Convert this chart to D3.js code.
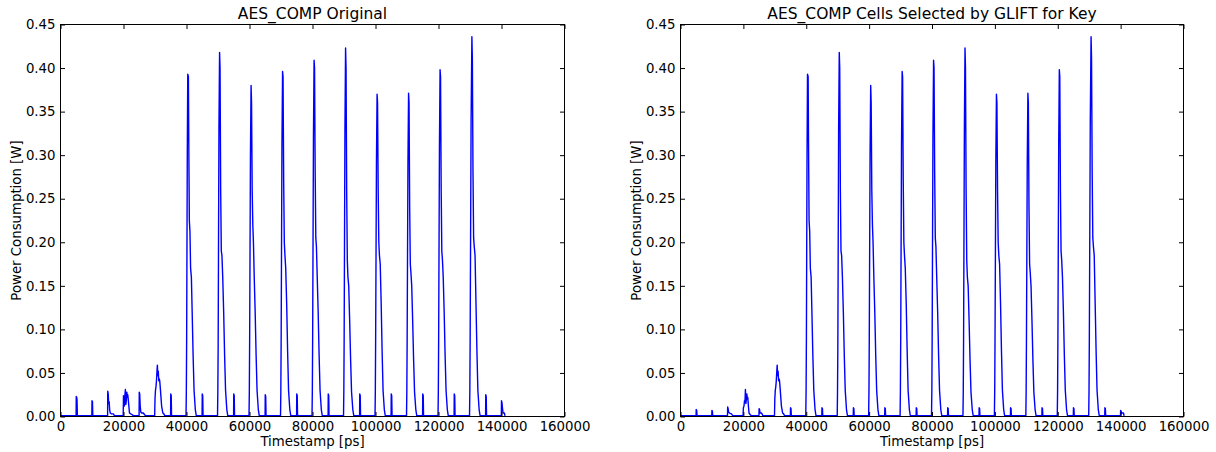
<!DOCTYPE html>
<html><head><meta charset="utf-8">
<script src="https://cdn.jsdelivr.net/npm/d3@7"></script>
<style>
body{margin:0;background:#fff;}
text{font-family:"DejaVu Sans",sans-serif;fill:#000;}
</style>
</head><body>
<svg id="chart" width="1216" height="452"></svg>
<script>
// ---------------- data ----------------
const panelTitles = ["AES_COMP Original", "AES_COMP Cells Selected by GLIFT for Key"];
const xLabel = "Timestamp [ps]";
const yLabel = "Power Consumption [W]";
const xTicks = [0, 20000, 40000, 60000, 80000, 100000, 120000, 140000, 160000];
const yTicks = [0.00, 0.05, 0.10, 0.15, 0.20, 0.25, 0.30, 0.35, 0.40, 0.45];

// Big round spikes (identical in both panels): [timestamp ps, power W]
const roundSpikes = [
  [[39850,0.001],[39950,0.03],[40050,0.09],[40250,0.30],[40400,0.393],[40600,0.390],[40750,0.30],[40900,0.225],[41100,0.212],[41300,0.170],[41550,0.160],[41800,0.120],[42100,0.070],[42400,0.030],[42800,0.008],[43100,0.001]],
  [[49850,0.001],[49950,0.03],[50050,0.08],[50300,0.33],[50500,0.418],[50650,0.400],[50850,0.26],[51050,0.190],[51250,0.185],[51500,0.160],[51800,0.120],[52100,0.070],[52400,0.030],[52800,0.008],[53100,0.001]],
  [[59850,0.001],[59950,0.03],[60050,0.09],[60300,0.30],[60500,0.380],[60650,0.360],[60850,0.26],[61050,0.220],[61250,0.200],[61500,0.160],[61800,0.120],[62100,0.070],[62400,0.030],[62800,0.008],[63100,0.001]],
  [[69850,0.001],[69950,0.03],[70050,0.09],[70300,0.31],[70500,0.396],[70650,0.390],[70850,0.27],[71050,0.200],[71250,0.185],[71500,0.170],[71800,0.130],[72100,0.075],[72400,0.030],[72800,0.008],[73100,0.001]],
  [[79850,0.001],[79950,0.03],[80050,0.09],[80300,0.32],[80500,0.409],[80650,0.400],[80850,0.28],[81050,0.205],[81250,0.195],[81500,0.160],[81800,0.120],[82100,0.070],[82400,0.030],[82800,0.008],[83100,0.001]],
  [[89850,0.001],[89950,0.03],[90050,0.09],[90300,0.33],[90500,0.423],[90650,0.400],[90850,0.26],[91050,0.180],[91250,0.160],[91500,0.150],[91800,0.110],[92100,0.065],[92400,0.028],[92800,0.008],[93100,0.001]],
  [[99850,0.001],[99950,0.03],[100050,0.09],[100300,0.29],[100500,0.370],[100650,0.360],[100850,0.26],[101050,0.200],[101250,0.185],[101500,0.175],[101800,0.130],[102100,0.075],[102400,0.030],[102800,0.008],[103100,0.001]],
  [[109850,0.001],[109950,0.03],[110050,0.09],[110300,0.29],[110500,0.371],[110650,0.360],[110850,0.24],[111050,0.175],[111250,0.165],[111500,0.150],[111800,0.110],[112100,0.065],[112400,0.028],[112800,0.008],[113100,0.001]],
  [[119850,0.001],[119950,0.03],[120050,0.09],[120300,0.31],[120500,0.398],[120650,0.390],[120850,0.26],[121050,0.190],[121250,0.180],[121500,0.160],[121800,0.120],[122100,0.070],[122400,0.030],[122800,0.008],[123100,0.001]],
  [[129850,0.001],[129950,0.03],[130050,0.09],[130350,0.34],[130600,0.436],[130750,0.410],[130950,0.28],[131150,0.205],[131350,0.195],[131600,0.185],[131900,0.130],[132200,0.075],[132500,0.030],[132900,0.008],[133200,0.001]]
];

// Minor activity, original design
const originalMinor = [
  [0,0.001],
  [4950,0.001],[5000,0.023],[5150,0.022],[5250,0.019],[5350,0.001],
  [9950,0.001],[10000,0.018],[10150,0.017],[10250,0.001],
  [14950,0.001],[15000,0.029],[15150,0.026],[15300,0.015],[15450,0.017],[15600,0.008],[15800,0.004],[16200,0.003],[16800,0.003],[17100,0.001],
  [19900,0.001],[20000,0.024],[20150,0.022],[20300,0.012],[20450,0.025],[20600,0.031],[20750,0.014],[20900,0.019],[21050,0.028],[21200,0.022],[21350,0.025],[21500,0.020],[21700,0.012],[21900,0.004],[22300,0.003],[22800,0.002],[23100,0.001],
  [24950,0.001],[25000,0.028],[25150,0.026],[25300,0.012],[25500,0.005],[25800,0.004],[26300,0.004],[26700,0.002],[27000,0.001],
  [29900,0.001],[30000,0.020],[30150,0.030],[30300,0.034],[30450,0.040],[30600,0.050],[30750,0.059],[30900,0.047],[31050,0.052],[31200,0.041],[31350,0.043],[31500,0.041],[31700,0.032],[31900,0.022],[32100,0.012],[32300,0.008],[32500,0.004],[32800,0.003],[33100,0.001],
  [34950,0.001],[35000,0.026],[35150,0.024],[35250,0.001],
  [44950,0.001],[45000,0.026],[45150,0.024],[45250,0.001],
  [54950,0.001],[55000,0.026],[55150,0.024],[55250,0.001],
  [64950,0.001],[65000,0.025],[65150,0.023],[65250,0.001],
  [74950,0.001],[75000,0.026],[75150,0.024],[75250,0.001],
  [84950,0.001],[85000,0.026],[85150,0.024],[85250,0.001],
  [94950,0.001],[95000,0.026],[95150,0.024],[95250,0.001],
  [104950,0.001],[105000,0.026],[105150,0.024],[105250,0.001],
  [114950,0.001],[115000,0.026],[115150,0.024],[115250,0.001],
  [124950,0.001],[125000,0.026],[125150,0.024],[125250,0.001],
  [134950,0.001],[135000,0.025],[135150,0.023],[135250,0.001],
  [139950,0.001],[140000,0.018],[140150,0.016],[140300,0.010],[140500,0.004],[140900,0.004],[141100,0.001],[141200,0.001]
];

// Minor activity, GLIFT-selected cells
const gliftMinor = [
  [0,0.001],
  [4950,0.001],[5000,0.008],[5150,0.007],[5250,0.001],
  [9950,0.001],[10000,0.007],[10150,0.006],[10250,0.001],
  [14950,0.001],[15000,0.011],[15150,0.009],[15300,0.005],[15600,0.004],[16200,0.003],[16600,0.001],
  [19900,0.001],[20000,0.010],[20200,0.012],[20350,0.018],[20500,0.016],[20650,0.031],[20800,0.015],[20950,0.020],[21100,0.026],[21250,0.020],[21400,0.022],[21600,0.012],[21800,0.004],[22200,0.002],[22500,0.001],
  [24950,0.001],[25000,0.009],[25150,0.008],[25300,0.004],[25800,0.004],[26200,0.001],
  [29900,0.001],[30000,0.020],[30150,0.030],[30300,0.034],[30450,0.040],[30600,0.050],[30750,0.059],[30900,0.047],[31050,0.052],[31200,0.041],[31350,0.043],[31500,0.041],[31700,0.032],[31900,0.022],[32100,0.012],[32300,0.008],[32500,0.004],[32800,0.003],[33100,0.001],
  [34950,0.001],[35000,0.010],[35150,0.009],[35250,0.001],
  [44950,0.001],[45000,0.010],[45150,0.009],[45250,0.001],
  [54950,0.001],[55000,0.010],[55150,0.009],[55250,0.001],
  [64950,0.001],[65000,0.010],[65150,0.009],[65250,0.001],
  [74950,0.001],[75000,0.010],[75150,0.009],[75250,0.001],
  [84950,0.001],[85000,0.010],[85150,0.009],[85250,0.001],
  [94950,0.001],[95000,0.010],[95150,0.009],[95250,0.001],
  [104950,0.001],[105000,0.010],[105150,0.009],[105250,0.001],
  [114950,0.001],[115000,0.010],[115150,0.009],[115250,0.001],
  [124950,0.001],[125000,0.010],[125150,0.009],[125250,0.001],
  [134950,0.001],[135000,0.010],[135150,0.009],[135250,0.001],
  [139950,0.001],[140000,0.007],[140150,0.006],[140300,0.004],[140900,0.004],[141100,0.001],[141200,0.001]
];

// ---------------- drawing ----------------
const svg = d3.select("#chart");
svg.append("rect").attr("width",1216).attr("height",452).attr("fill","#fff");

const panels = [
  {left:60.5, right:564.5, title:panelTitles[0], minor:originalMinor},
  {left:680.5, right:1183.5, title:panelTitles[1], minor:gliftMinor}
];
const plotTop = 24.5, plotBottom = 416.5;

function buildTrace(minor){
  const all = minor.concat(...roundSpikes);
  return all.slice().sort((a,b)=>a[0]-b[0]);
}

panels.forEach(p=>{
  const x = d3.scaleLinear().domain([0,160000]).range([p.left,p.right]);
  const y = d3.scaleLinear().domain([0,0.45]).range([plotBottom,plotTop]);
  const g = svg.append("g");

  const line = d3.line().x(d=>x(d[0])).y(d=>y(d[1]));
  g.append("path").datum(buildTrace(p.minor))
    .attr("d",line).attr("fill","none").attr("stroke","#0000ff")
    .attr("stroke-width",1.4).attr("stroke-linejoin","round");

  const fs = "13.3px";
  const ax = g.append("g").attr("transform",`translate(0,${plotBottom})`)
    .call(d3.axisBottom(x).tickValues(xTicks).tickFormat(d3.format("d")).tickSizeInner(-4.5).tickSizeOuter(0).tickPadding(5));
  const at = g.append("g").attr("transform",`translate(0,${plotTop})`)
    .call(d3.axisTop(x).tickValues(xTicks).tickFormat("").tickSizeInner(-4.5).tickSizeOuter(0));
  const ay = g.append("g").attr("transform",`translate(${p.left},0)`)
    .call(d3.axisLeft(y).tickValues(yTicks).tickFormat(d3.format(".2f")).tickSizeInner(-4.5).tickSizeOuter(0).tickPadding(5));
  const ar = g.append("g").attr("transform",`translate(${p.right},0)`)
    .call(d3.axisRight(y).tickValues(yTicks).tickFormat("").tickSizeInner(-4.5).tickSizeOuter(0));
  [ax,at,ay,ar].forEach(a=>{
    a.select(".domain").remove();
    a.selectAll("line").attr("stroke","#000").attr("stroke-width",1);
    a.selectAll("text").attr("font-family","DejaVu Sans").attr("font-size",fs).attr("fill","#000");
  });

  g.append("rect").attr("x",p.left).attr("y",plotTop)
    .attr("width",p.right-p.left).attr("height",plotBottom-plotTop)
    .attr("fill","none").attr("stroke","#000").attr("stroke-width",1);

  g.append("text").attr("x",(p.left+p.right)/2).attr("y",19)
    .attr("text-anchor","middle").attr("font-size","15.5px").text(p.title);
  g.append("text").attr("x",(p.left+p.right)/2).attr("y",446)
    .attr("text-anchor","middle").attr("font-size","13.3px").text(xLabel);
  g.append("text").attr("transform",`translate(${p.left-40},${(plotTop+plotBottom)/2}) rotate(-90)`)
    .attr("text-anchor","middle").attr("font-size","13.3px").text(yLabel);
});
</script>
</body></html>
